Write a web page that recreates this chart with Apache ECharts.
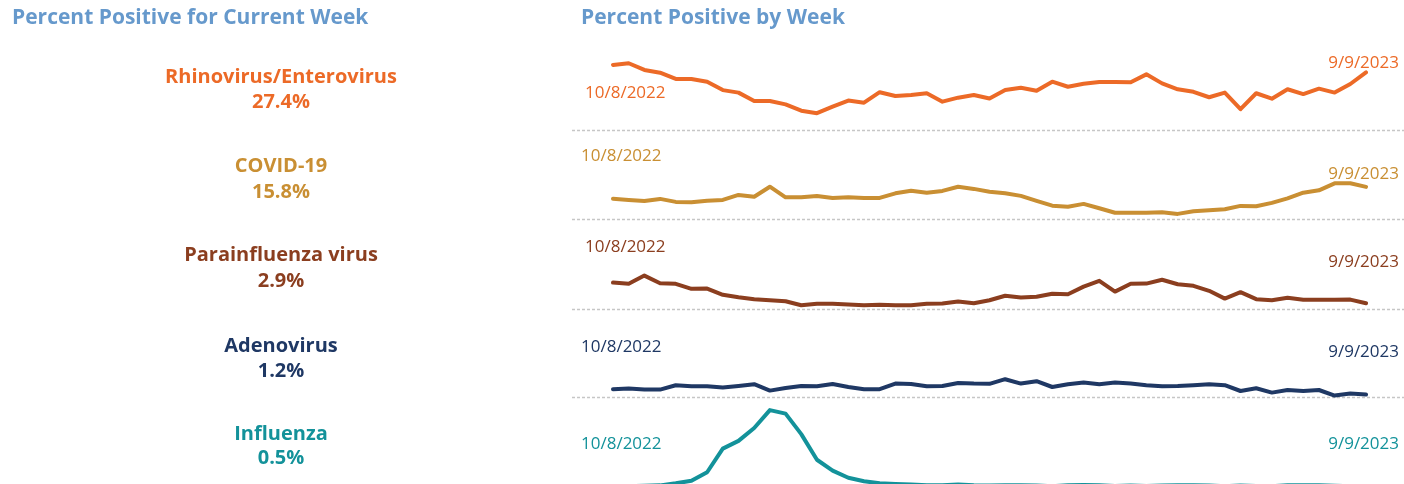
<!DOCTYPE html>
<html><head><meta charset="utf-8">
<script src="https://cdn.jsdelivr.net/npm/echarts@6/dist/echarts.min.js"></script>
<style>html,body{margin:0;padding:0;background:#fff}#c{width:1404px;height:484px}</style>
</head><body><div id="c"></div>
<script>
const weeks = ["10/8/2022","10/15/2022","10/22/2022","10/29/2022","11/5/2022","11/12/2022","11/19/2022","11/26/2022",
"12/3/2022","12/10/2022","12/17/2022","12/24/2022","12/31/2022","1/7/2023","1/14/2023","1/21/2023","1/28/2023",
"2/4/2023","2/11/2023","2/18/2023","2/25/2023","3/4/2023","3/11/2023","3/18/2023","3/25/2023","4/1/2023","4/8/2023",
"4/15/2023","4/22/2023","4/29/2023","5/6/2023","5/13/2023","5/20/2023","5/27/2023","6/3/2023","6/10/2023","6/17/2023",
"6/24/2023","7/1/2023","7/8/2023","7/15/2023","7/22/2023","7/29/2023","8/5/2023","8/12/2023","8/19/2023","8/26/2023",
"9/2/2023","9/9/2023"];
const virusNames = ["Rhinovirus/Enterovirus","COVID-19","Parainfluenza virus","Adenovirus","Influenza"];
const currentWeekPct = ["27.4%","15.8%","2.9%","1.2%","0.5%"];
const leftTitle = "Percent Positive for Current Week";
const rightTitle = "Percent Positive by Week";

const rhinoValues = [31.0,31.8,28.6,27.3,24.3,24.3,23.0,19.0,17.8,13.8,13.8,12.2,9.2,8.0,11.1,14.0,13.0,18.0,16.2,16.7,
17.5,13.5,15.4,16.7,15.0,19.0,20.1,18.7,23.0,20.6,22.0,22.9,22.9,22.7,26.5,22.2,19.4,18.2,15.6,17.8,9.9,17.5,14.9,
19.4,17.1,19.7,17.8,21.9,27.4];
const covidValues = [9.9,9.3,8.8,9.8,8.3,8.1,8.9,9.3,11.8,10.9,15.9,10.6,10.6,11.3,10.3,10.6,10.3,10.3,12.6,13.9,12.9,
13.8,15.9,14.8,13.4,12.6,11.3,8.8,6.4,5.9,7.3,5.1,2.9,2.9,2.9,3.1,2.3,3.6,4.1,4.6,6.3,6.1,7.8,10.1,12.9,14.1,17.6,17.6,15.8];
const paraValues = [13.2,12.6,16.7,12.9,12.6,10.1,10.2,7.1,5.9,4.9,4.4,3.9,1.9,2.6,2.6,2.2,1.9,2.1,1.9,1.9,2.6,2.7,3.7,
2.9,4.4,6.6,5.7,6.1,7.6,7.4,11.2,14.1,8.7,12.6,12.7,14.6,12.4,11.6,9.1,5.2,8.4,4.9,4.4,5.6,4.6,4.6,4.6,4.7,2.9];
const adenoValues = [3.9,4.2,3.7,3.7,5.9,5.4,5.4,4.7,5.5,6.4,3.2,4.5,5.5,5.4,6.5,5.0,3.9,3.9,6.7,6.5,5.4,5.5,7.0,6.7,
6.6,8.9,6.7,7.9,5.0,6.4,7.2,6.4,7.2,6.7,5.9,5.4,5.5,5.9,6.4,5.9,3.0,4.4,2.2,3.5,3.0,3.5,0.7,1.7,1.2];
const fluValues = [0.3,0.4,0.6,0.8,1.8,3.0,7.2,18.7,22.5,28.8,37.5,35.8,25.8,13.3,8.0,4.5,2.8,1.8,1.5,1.2,0.8,0.8,1.2,
0.8,0.7,0.8,0.9,0.7,0.4,0.8,1.0,0.8,0.5,0.7,0.5,0.7,0.9,0.9,0.7,0.4,0.7,0.5,0.4,0.8,0.9,0.8,0.6,0.4,0.5];

const seriesValues = [rhinoValues, covidValues, paraValues, adenoValues, fluValues];
const colors = ["#ec6a27","#c98f33","#8b3e1f","#1f3864","#13929a"];
const titleBlue = "#6699cc";

// layout
const canvasH = 484;
const baselines = [130, 218.5, 309, 397, 487];
const pxPerPct = [2.1, 2.0, 2.0, 2.0, 2.05];
const gridH = 80;
const nameY = [77, 166, 255, 346, 434];
const pctY = [102, 192, 281, 371, 458];
const startLbl = [[585, 93],[581, 156],[585, 247],[581, 347],[581, 444]];
const endLbl = [[1399, 63],[1399, 174],[1399, 262],[1399, 352],[1399, 444]];
const FONT = '"Open Sans", "Lato", sans-serif';

const chart = echarts.init(document.getElementById('c'), null, {renderer:'canvas'});
const grids = [], xAxes = [], yAxes = [], series = [];
seriesValues.forEach((vals, k) => {
  const gBottom = Math.min(baselines[k], canvasH);
  const yMin = (baselines[k] - gBottom) / pxPerPct[k];
  grids.push({left: 613, width: 753, top: gBottom - gridH, height: gridH});
  xAxes.push({type:'category', gridIndex:k, data: weeks, boundaryGap:false, show:false});
  yAxes.push({type:'value', gridIndex:k, min: yMin, max: yMin + gridH / pxPerPct[k], show:false, scale:true});
  series.push({type:'line', xAxisIndex:k, yAxisIndex:k, data: vals, symbol:'none', clip:false,
    lineStyle:{color: colors[k], width:4, join:'round', cap:'round'}, z: 5, silent:true});
});

const graphics = [];
graphics.push({type:'text', x:12, y:18, style:{text:leftTitle, font:'bold 21px ' + FONT, fill:titleBlue, align:'left', verticalAlign:'middle'}});
graphics.push({type:'text', x:581, y:18, style:{text:rightTitle, font:'bold 21px ' + FONT, fill:titleBlue, align:'left', verticalAlign:'middle'}});
virusNames.forEach((nm, k) => {
  graphics.push({type:'text', x:281, y:nameY[k], style:{text:nm, font:'bold 20px ' + FONT, fill:colors[k], align:'center', verticalAlign:'middle'}});
  graphics.push({type:'text', x:281, y:pctY[k], style:{text:currentWeekPct[k], font:'bold 20px ' + FONT, fill:colors[k], align:'center', verticalAlign:'middle'}});
  graphics.push({type:'text', x:startLbl[k][0], y:startLbl[k][1], style:{text:weeks[0], font:'17px ' + FONT, fill:colors[k], align:'left', verticalAlign:'middle'}, z:10});
  graphics.push({type:'text', x:endLbl[k][0], y:endLbl[k][1], style:{text:weeks[weeks.length-1], font:'17px ' + FONT, fill:colors[k], align:'right', verticalAlign:'middle'}, z:10});
});

chart.setOption({animation:false, grid:grids, xAxis:xAxes, yAxis:yAxes, series:series, graphic:graphics});

// dotted zero baselines across the right panel
const lines = seriesValues.map((v, k) => {
  const y = Math.round(chart.convertToPixel({gridIndex:k}, [0, 0])[1]) + 0.5;
  return {type:'line', z:1, shape:{x1:572, y1:y, x2:1404, y2:y}, style:{stroke:'#c6c6c6', lineWidth:1.5, lineDash:[3,2]}};
});
chart.setOption({graphic: graphics.concat(lines)});
</script></body></html>
